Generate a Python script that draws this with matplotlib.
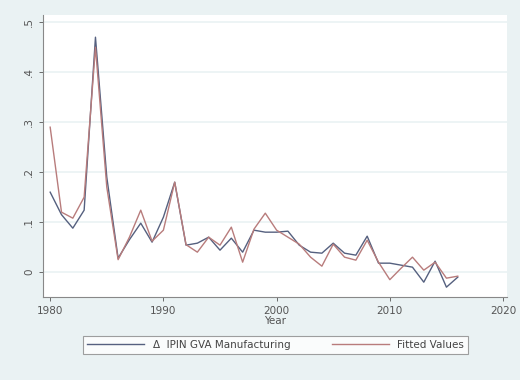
import matplotlib.pyplot as plt

years = list(range(1980, 2017))
actual = [0.16, 0.115, 0.088, 0.124, 0.47, 0.19, 0.028, 0.065, 0.098, 0.06,
          0.11, 0.18, 0.054, 0.058, 0.07, 0.044, 0.068, 0.04, 0.084, 0.08,
          0.08, 0.082, 0.054, 0.04, 0.038, 0.058, 0.038, 0.034, 0.072, 0.018,
          0.018, 0.014, 0.01, -0.02, 0.022, -0.03, -0.01]
fitted = [0.29, 0.12, 0.108, 0.15, 0.45, 0.17, 0.025, 0.07, 0.124, 0.062,
          0.084, 0.18, 0.055, 0.04, 0.07, 0.054, 0.09, 0.02, 0.086, 0.118,
          0.084, 0.07, 0.056, 0.03, 0.012, 0.056, 0.03, 0.024, 0.064, 0.02,
          -0.015, 0.008, 0.03, 0.004, 0.02, -0.012, -0.008]

bg = '#eaf2f3'
fig = plt.figure(figsize=(5.2, 3.8), dpi=100, facecolor=bg)
ax = fig.add_axes([0.083, 0.218, 0.892, 0.742])
ax.set_facecolor('white')

ax.plot(years, actual, color='#55607f', lw=1.0, label='Δ  IPIN GVA Manufacturing')
ax.plot(years, fitted, color='#b87c7c', lw=1.0, label='Fitted Values')

ax.set_xlim(1979.38, 2020.35)
ax.set_ylim(-0.05, 0.514)
ax.set_xticks([1980, 1990, 2000, 2010, 2020])
ax.set_yticks([0, 0.1, 0.2, 0.3, 0.4, 0.5])
ax.set_yticklabels(['0', '.1', '.2', '.3', '.4', '.5'], rotation=90, va='center')
ax.tick_params(labelsize=7.5, colors='#555555', length=3, width=0.6)
ax.grid(axis='y', color=bg, lw=1.2)
ax.set_axisbelow(True)
for s in ['top', 'right']:
    ax.spines[s].set_visible(False)
for s in ['left', 'bottom']:
    ax.spines[s].set_color('#888888')
    ax.spines[s].set_linewidth(0.8)
ax.set_xlabel('Year', fontsize=7.5, color='#555555', labelpad=0)

leg = fig.legend(loc='center', bbox_to_anchor=(0.53, 0.092), ncol=2,
                 fontsize=7.5, frameon=True, fancybox=False, handlelength=5.5,
                 columnspacing=4, borderpad=0.4)
leg.get_frame().set_edgecolor('#888888')
leg.get_frame().set_linewidth(0.8)
for t in leg.get_texts():
    t.set_color('#444444')

fig.savefig('out.png', dpi=100, facecolor=bg)
